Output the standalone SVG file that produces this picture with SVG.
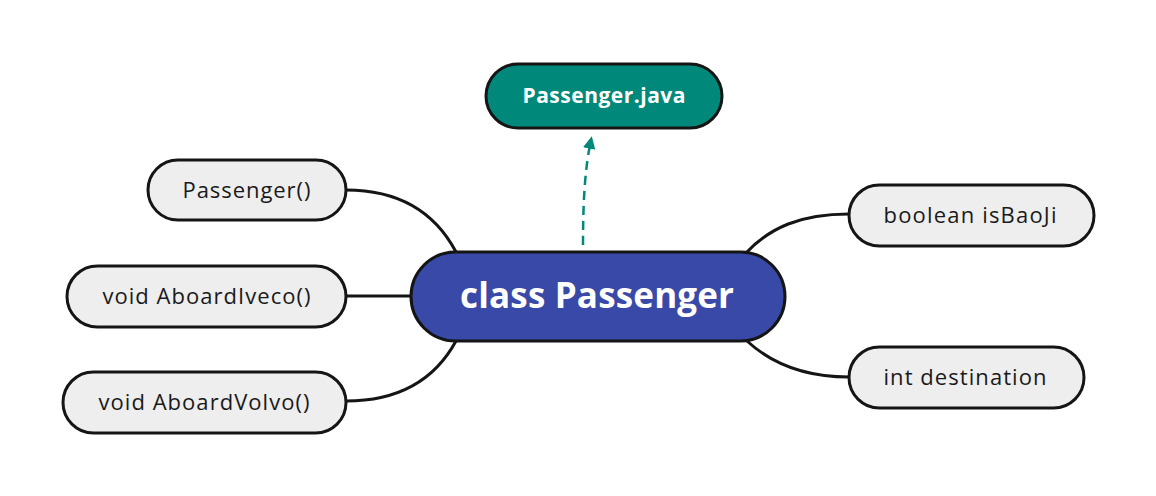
<svg xmlns="http://www.w3.org/2000/svg" width="1156" height="496" viewBox="0 0 1156 496">
<defs>
<style>
.leaf rect{fill:#eeeeee;stroke:#151515;stroke-width:3}
.leaf text{font-family:"Open Sans","Liberation Sans",sans-serif;font-size:22px;font-weight:500;fill:#1a1a1a;text-anchor:middle}
.conn path{fill:none;stroke:#151515;stroke-width:3}
.conn path.dash{stroke:#00897b;stroke-width:2.5;stroke-dasharray:9 6}
.bold{font-family:"Open Sans","Liberation Sans",sans-serif;font-weight:700;fill:#ffffff;text-anchor:middle}
</style>
<marker id="ah" viewBox="0 0 10 10" refX="7" refY="5" markerWidth="5" markerHeight="5" orient="auto" markerUnits="strokeWidth">
<path d="M0,0 L10,5 L0,10 z" fill="#00897b"/>
</marker>
</defs>
<rect width="1156" height="496" fill="#ffffff"/>
<g id="connectors" class="conn">
<path d="M346,190 C405,190 438,218 456,252"/>
<path d="M346,296 L411,296"/>
<path d="M346,401 C405,401 438,374 456,341"/>
<path d="M747,252 C770,228 800,214 849,214"/>
<path d="M747,341 C772,364 805,377 849,377"/>
<path class="dash" d="M583,245 C583,200 585,168 591,140" marker-end="url(#ah)"/>
</g>
<g id="passenger-java">
<rect x="486" y="64" width="236" height="64" rx="32" fill="#00897b" stroke="#151515" stroke-width="3"/>
<text class="bold" x="604" y="103" font-size="21" textLength="163">Passenger.java</text>
</g>
<g id="class-passenger">
<rect x="411" y="252" width="374" height="89" rx="44.5" fill="#3949a8" stroke="#151515" stroke-width="3"/>
<text class="bold" x="597" y="308" font-size="35" textLength="274">class Passenger</text>
</g>
<g id="n-passenger-ctor" class="leaf">
<rect x="148" y="160" width="198" height="60" rx="30"/>
<text x="246.5" y="198" textLength="128">Passenger()</text>
</g>
<g id="n-iveco" class="leaf">
<rect x="67" y="266" width="279" height="61" rx="30.5"/>
<text x="206.5" y="304" textLength="208">void AboardIveco()</text>
</g>
<g id="n-volvo" class="leaf">
<rect x="63" y="372" width="283" height="61" rx="30.5"/>
<text x="204" y="410" textLength="211">void AboardVolvo()</text>
</g>
<g id="n-isbaoji" class="leaf">
<rect x="849" y="185" width="245" height="61" rx="30.5"/>
<text x="970" y="223" textLength="173">boolean isBaoJi</text>
</g>
<g id="n-destination" class="leaf">
<rect x="849" y="347" width="235" height="61" rx="30.5"/>
<text x="965" y="385" textLength="163">int destination</text>
</g>
</svg>
